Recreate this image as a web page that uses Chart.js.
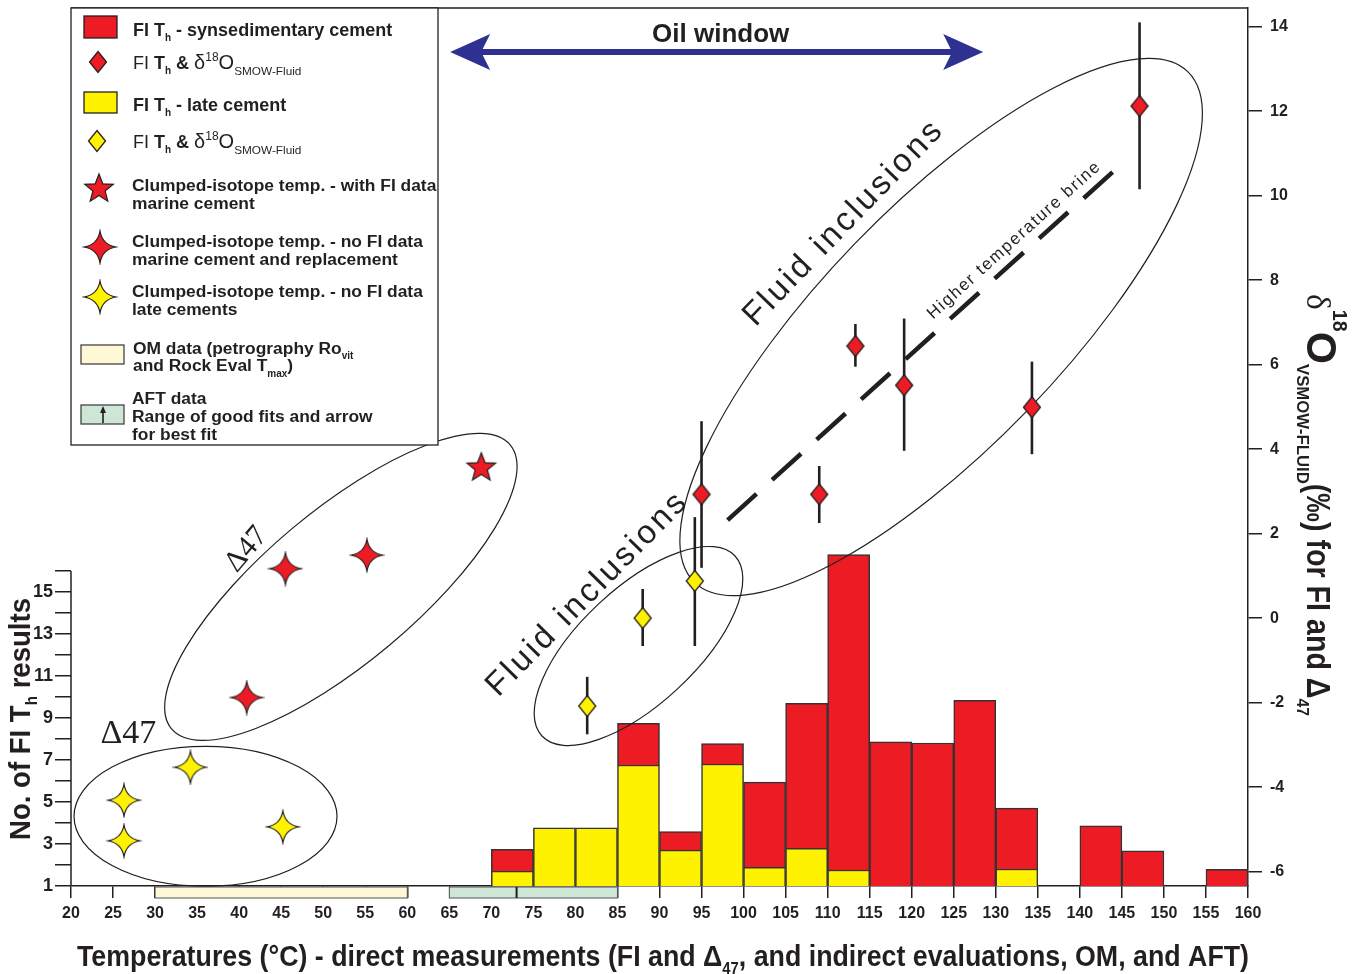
<!DOCTYPE html>
<html>
<head>
<meta charset="utf-8">
<script src="https://cdn.jsdelivr.net/npm/chart.js@4.4.1/dist/chart.umd.min.js"></script>
<style>
  html, body { margin: 0; padding: 0; background: #fff; }
  canvas { display: block; }
</style>
</head>
<body>
<canvas id="chart" width="1359" height="974"></canvas>
<script>
// ---- axes ----
var tempTicks = [20, 25, 30, 35, 40, 45, 50, 55, 60, 65, 70, 75, 80, 85, 90, 95, 100, 105, 110, 115, 120, 125, 130, 135, 140, 145, 150, 155, 160];
var countTicks = [1, 2, 3, 4, 5, 6, 7, 8, 9, 10, 11, 12, 13, 14, 15, 16];
var d18oTicks = [-6, -4, -2, 0, 2, 4, 6, 8, 10, 12, 14];

// ---- FI Th histogram (5 °C bins, bin centre), top of each colour in axis units ----
var binCentres      = [72.5, 77.5, 82.5, 87.5, 92.5, 97.5, 102.5, 107.5, 112.5, 117.5, 122.5, 127.5, 132.5, 142.5, 147.5, 157.5];
var lateCementTop   = [1.71, 3.77, 3.77, 6.76, 2.71, 6.81, 1.89, 2.79, 1.76, 1, 1, 1, 1.81, 1, 1, 1];
var synsedCementTop = [2.75, 3.77, 3.77, 8.75, 3.59, 7.78, 5.95, 9.70, 16.78, 7.87, 7.81, 9.84, 4.71, 3.86, 2.67, 1.79];

// ---- FI Th & d18O fluid (synsedimentary, red) ----
var redFiTemp = [95.0, 109.0, 113.3, 119.1, 134.3, 147.1];
var redFiD18o = [2.93, 2.93, 6.44, 5.51, 4.99, 12.12];
var redFiLow  = [1.19, 2.25, 5.95, 3.96, 3.88, 10.15];
var redFiHigh = [4.66, 3.60, 6.96, 7.09, 6.07, 14.10];

// ---- FI Th & d18O fluid (late cement, yellow) ----
var yelFiTemp = [81.4, 88.0, 94.2];
var yelFiD18o = [-2.08, 0.0, 0.88];
var yelFiLow  = [-2.75, -0.66, -0.66];
var yelFiHigh = [-1.39, 0.69, 2.39];

// ---- clumped isotopes ----
var clumpedWithFiTemp = [68.8];
var clumpedWithFiD18o = [3.58];
var clumpedMarineTemp = [40.9, 45.5, 55.2];
var clumpedMarineD18o = [-1.88, 1.17, 1.49];
var clumpedLateTemp = [26.3, 26.3, 34.2, 45.2];
var clumpedLateD18o = [-4.31, -5.27, -3.53, -4.94];

// ---- trend and ranges ----
var brineTrendTemp = [98.1, 144.3];
var brineTrendD18o = [2.32, 10.63];
var omRange = [30, 60];
var aftRange = [65, 85];
var aftBestFit = 73;
var oilWindow = [65.1, 128.5];

var INK = '#231f20';
var RED = '#ed1c24';
var YEL = '#fff200';
var SANS = '"Liberation Sans", Arial, sans-serif';
var SERIF = '"Liberation Serif", "Times New Roman", serif';

// marker images
function makeDiamond(fill) {
  var c = document.createElement('canvas'); c.width = 20; c.height = 24;
  var g = c.getContext('2d');
  g.beginPath(); g.moveTo(10, 1.5); g.lineTo(18.5, 12); g.lineTo(10, 22.5); g.lineTo(1.5, 12); g.closePath();
  g.fillStyle = fill; g.fill(); g.lineWidth = 1.3; g.strokeStyle = INK; g.stroke();
  return c;
}
function makeSparkle(fill) {
  var c = document.createElement('canvas'); c.width = 36; c.height = 36;
  var g = c.getContext('2d'), m = 18, R = 16, k = 2.3;
  g.beginPath(); g.moveTo(m, m - R);
  g.quadraticCurveTo(m + k, m - k, m + R, m);
  g.quadraticCurveTo(m + k, m + k, m, m + R);
  g.quadraticCurveTo(m - k, m + k, m - R, m);
  g.quadraticCurveTo(m - k, m - k, m, m - R);
  g.closePath();
  g.fillStyle = fill; g.fill(); g.lineWidth = 1.2; g.strokeStyle = INK; g.stroke();
  return c;
}
function makeStar(fill) {
  var c = document.createElement('canvas'); c.width = 34; c.height = 34;
  var g = c.getContext('2d'), m = 17, R = 15, r = 6.4;
  g.beginPath();
  for (var i = 0; i < 10; i++) {
    var a = -Math.PI / 2 + i * Math.PI / 5, rr = i % 2 ? r : R;
    var px = m + rr * Math.cos(a), py = m + 1 + rr * Math.sin(a);
    if (i) g.lineTo(px, py); else g.moveTo(px, py);
  }
  g.closePath();
  g.fillStyle = fill; g.fill(); g.lineWidth = 1.2; g.strokeStyle = INK; g.stroke();
  return c;
}
var redDiamond = makeDiamond(RED), yelDiamond = makeDiamond(YEL);
var redSparkle = makeSparkle(RED), yelSparkle = makeSparkle(YEL);
var redStar = makeStar(RED);

function pts(xs, ys) { return xs.map(function (x, i) { return { x: x, y: ys[i] }; }); }

var datasets = [];

// error bars
function addErrorBars(xs, lo, hi) {
  xs.forEach(function (x, i) {
    datasets.push({
      type: 'line', yAxisID: 'y2', order: 5,
      data: [{ x: x, y: lo[i] }, { x: x, y: hi[i] }],
      borderColor: INK, borderWidth: 2.6, pointRadius: 0, fill: false
    });
  });
}
addErrorBars(redFiTemp, redFiLow, redFiHigh);
addErrorBars(yelFiTemp, yelFiLow, yelFiHigh);

function markerSet(label, xs, ys, img) {
  return { type: 'scatter', label: label, yAxisID: 'y2', order: 1, data: pts(xs, ys),
    pointStyle: img, pointRadius: 10, showLine: false };
}
datasets.push(markerSet('FI Th & d18O (synsed.)', redFiTemp, redFiD18o, redDiamond));
datasets.push(markerSet('FI Th & d18O (late)', yelFiTemp, yelFiD18o, yelDiamond));
datasets.push(markerSet('Clumped - with FI', clumpedWithFiTemp, clumpedWithFiD18o, redStar));
datasets.push(markerSet('Clumped - marine', clumpedMarineTemp, clumpedMarineD18o, redSparkle));
datasets.push(markerSet('Clumped - late', clumpedLateTemp, clumpedLateD18o, yelSparkle));

datasets.push({
  type: 'line', label: 'Higher temperature brine', yAxisID: 'y2', order: 6,
  data: pts(brineTrendTemp, brineTrendD18o),
  borderColor: INK, borderWidth: 4.5, borderDash: [39, 21], borderCapStyle: 'butt',
  pointRadius: 0, fill: false
});

var barOpts = { type: 'bar', yAxisID: 'y', grouped: false, barPercentage: 1, categoryPercentage: 1,
  borderColor: '#333', borderWidth: 1.5, borderSkipped: 'start' };
datasets.push(Object.assign({}, barOpts, {
  label: 'FI Th - late cement', order: 10, backgroundColor: YEL,
  data: binCentres.map(function (x, i) { return { x: x, y: [1, lateCementTop[i]] }; })
    .filter(function (d) { return d.y[1] > d.y[0]; })
}));
datasets.push(Object.assign({}, barOpts, {
  label: 'FI Th - synsedimentary cement', order: 11, backgroundColor: RED,
  data: binCentres.map(function (x, i) { return { x: x, y: [lateCementTop[i], synsedCementTop[i]] }; })
    .filter(function (d) { return d.y[1] > d.y[0]; })
}));

// ---- text helpers ----
function drawRich(ctx, segs, x, y, angle, align, fitLen) {
  ctx.save();
  ctx.translate(x, y);
  ctx.rotate((angle || 0) * Math.PI / 180);
  var w = 0;
  segs.forEach(function (s) { ctx.font = s.f; s.w = ctx.measureText(s.t).width * (s.sx || 1); w += s.w; });
  if (fitLen) ctx.scale(fitLen / w, 1);
  var cx = align === 'center' ? -w / 2 : 0;
  ctx.fillStyle = INK; ctx.textAlign = 'left'; ctx.textBaseline = 'alphabetic';
  segs.forEach(function (s) {
    ctx.font = s.f;
    ctx.save(); ctx.translate(cx, s.dy || 0); ctx.scale(s.sx || 1, 1);
    ctx.fillText(s.t, 0, 0); ctx.restore();
    cx += s.w;
  });
  ctx.restore();
}
function spacedText(ctx, text, x, y, angle, font, spacing) {
  ctx.save();
  ctx.translate(x, y); ctx.rotate(angle * Math.PI / 180);
  ctx.font = font; ctx.fillStyle = INK; ctx.textAlign = 'center'; ctx.textBaseline = 'alphabetic';
  ctx.letterSpacing = spacing + 'px';
  ctx.fillText(text, spacing / 2, 0);
  ctx.restore();
}
function B(size) { return 'bold ' + size + 'px ' + SANS; }
function R(size) { return size + 'px ' + SANS; }

var annotations = {
  id: 'annotations',
  afterDatasetDraw: function (chart, args) {
    if (args.meta.label !== 'FI Th - late cement') return;
    var ctx = chart.ctx, xs = chart.scales.x, ys = chart.scales.y2;
    function X(v) { return xs.getPixelForValue(v); }
    function Y(v) { return ys.getPixelForValue(v); }
    ctx.save();
    ctx.strokeStyle = INK; ctx.lineWidth = 1.2;
    [[123.5, 6.89, 355, 120, -46], [87.5, -0.66, 132, 58, -43], [52.1, 0.74, 221, 76, -40], [36.0, -4.69, 131.5, 70, 0]]
      .forEach(function (e) {
        ctx.beginPath();
        ctx.ellipse(X(e[0]), Y(e[1]), e[2], e[3], e[4] * Math.PI / 180, 0, Math.PI * 2);
        ctx.stroke();
      });
    spacedText(ctx, 'Fluid inclusions', X(112.6), Y(9.18), -46, R(33), 3);
    spacedText(ctx, 'Fluid inclusions', X(82.1), Y(0.40), -45.5, R(33), 3);
    spacedText(ctx, 'Higher temperature brine', X(132.5), Y(8.85), -42, R(17), 1.6);
    spacedText(ctx, '\u039447', X(41.6), Y(1.50), -50, '30px ' + SERIF, 0);
    ctx.font = '34px ' + SERIF; ctx.textAlign = 'left'; ctx.fillStyle = INK;
    ctx.fillText('\u039447', X(23.5), Y(-2.96));
    ctx.restore();
  },
  afterDraw: function (chart) {
    var ctx = chart.ctx, a = chart.chartArea, xs = chart.scales.x, ys = chart.scales.y2, yc = chart.scales.y;
    function X(v) { return xs.getPixelForValue(v); }
    function Y(v) { return ys.getPixelForValue(v); }
    ctx.save();
    // frame: top edge and the short left count axis
    ctx.strokeStyle = INK; ctx.lineWidth = 1.5;
    ctx.beginPath(); ctx.moveTo(a.left, a.top); ctx.lineTo(a.right, a.top); ctx.stroke();
    ctx.beginPath(); ctx.moveTo(a.left, a.bottom); ctx.lineTo(a.left, yc.getPixelForValue(16)); ctx.stroke();

    // OM and AFT ranges under the axis
    ctx.lineWidth = 1;
    ctx.strokeStyle = '#555';
    ctx.fillStyle = '#fff8d6';
    ctx.fillRect(X(omRange[0]), a.bottom + 1, X(omRange[1]) - X(omRange[0]), 11);
    ctx.strokeRect(X(omRange[0]), a.bottom + 1, X(omRange[1]) - X(omRange[0]), 11);
    ctx.fillStyle = '#cde6d6';
    ctx.fillRect(X(aftRange[0]), a.bottom + 1, X(aftRange[1]) - X(aftRange[0]), 11);
    ctx.strokeRect(X(aftRange[0]), a.bottom + 1, X(aftRange[1]) - X(aftRange[0]), 11);
    ctx.strokeStyle = INK; ctx.lineWidth = 2;
    ctx.beginPath(); ctx.moveTo(X(aftBestFit), a.bottom + 1); ctx.lineTo(X(aftBestFit), a.bottom + 12); ctx.stroke();

    // oil window arrow
    var x0 = X(oilWindow[0]), x1 = X(oilWindow[1]), y = Y(13.4);
    ctx.fillStyle = '#2e3192'; ctx.strokeStyle = '#2e3192'; ctx.lineWidth = 6;
    ctx.beginPath(); ctx.moveTo(x0 + 25, y); ctx.lineTo(x1 - 25, y); ctx.stroke();
    [[x0, 1], [x1, -1]].forEach(function (h) {
      ctx.beginPath();
      ctx.moveTo(h[0], y);
      ctx.lineTo(h[0] + h[1] * 40, y - 18);
      ctx.lineTo(h[0] + h[1] * 31, y);
      ctx.lineTo(h[0] + h[1] * 40, y + 18);
      ctx.closePath(); ctx.fill();
    });
    drawRich(ctx, [{ t: 'Oil window', f: B(26) }], (x0 + x1) / 2 + 4, y - 10, 0, 'center');

    // legend box
    var lx = a.left, ly = a.top, lw = 438 - a.left, lh = 445 - a.top;
    ctx.fillStyle = '#fff'; ctx.fillRect(lx, ly, lw, lh);
    ctx.strokeStyle = INK; ctx.lineWidth = 1.3; ctx.strokeRect(lx, ly, lw, lh);
    ctx.lineWidth = 1.3;
    ctx.fillStyle = RED; ctx.fillRect(84, 16, 33, 22); ctx.strokeRect(84, 16, 33, 22);
    ctx.fillStyle = YEL; ctx.fillRect(84, 92, 33, 21); ctx.strokeRect(84, 92, 33, 21);
    ctx.drawImage(redDiamond, 98 - 10, 62 - 12);
    ctx.drawImage(yelDiamond, 97 - 10, 141 - 12);
    ctx.drawImage(redStar, 99 - 17, 188 - 17);
    ctx.drawImage(redSparkle, 100 - 18, 247 - 18);
    ctx.drawImage(yelSparkle, 100 - 18, 297 - 18);
    ctx.strokeStyle = '#444';
    ctx.fillStyle = '#fff8d6'; ctx.fillRect(81, 345, 43, 19); ctx.strokeRect(81, 345, 43, 19);
    ctx.fillStyle = '#cde6d6'; ctx.fillRect(81, 405, 43, 19); ctx.strokeRect(81, 405, 43, 19);
    ctx.strokeStyle = INK; ctx.fillStyle = INK; ctx.lineWidth = 1.6;
    ctx.beginPath(); ctx.moveTo(103, 423); ctx.lineTo(103, 412); ctx.stroke();
    ctx.beginPath(); ctx.moveTo(103, 406); ctx.lineTo(100, 413); ctx.lineTo(106, 413); ctx.closePath(); ctx.fill();

    var tx = 132, LF = 17.4;
    drawRich(ctx, [{ t: 'FI T', f: B(18) }, { t: 'h', f: B(10), dy: 5 }, { t: ' - synsedimentary cement', f: B(18) }], tx + 1, 36);
    var fluidLine = [{ t: 'FI ', f: R(18) }, { t: 'T', f: B(18) }, { t: 'h', f: B(10), dy: 5 }, { t: ' & ', f: B(18) },
      { t: '\u03b4', f: R(20) }, { t: '18', f: R(12), dy: -8 }, { t: 'O', f: R(20) }, { t: 'SMOW-Fluid', f: R(11.8), dy: 6 }];
    drawRich(ctx, fluidLine, tx + 1, 69);
    drawRich(ctx, [{ t: 'FI T', f: B(18) }, { t: 'h', f: B(10), dy: 5 }, { t: ' - late cement', f: B(18) }], tx + 1, 111);
    drawRich(ctx, fluidLine, tx + 1, 148);
    drawRich(ctx, [{ t: 'Clumped-isotope temp. - with FI data', f: B(LF) }], tx, 191);
    drawRich(ctx, [{ t: 'marine cement', f: B(LF) }], tx, 209);
    drawRich(ctx, [{ t: 'Clumped-isotope temp. - no FI data', f: B(LF) }], tx, 247);
    drawRich(ctx, [{ t: 'marine cement and replacement', f: B(LF) }], tx, 265);
    drawRich(ctx, [{ t: 'Clumped-isotope temp. - no FI data', f: B(LF) }], tx, 297);
    drawRich(ctx, [{ t: 'late cements', f: B(LF) }], tx, 315);
    drawRich(ctx, [{ t: 'OM data (petrography Ro', f: B(LF) }, { t: 'vit', f: B(10), dy: 5 }], tx + 1, 354);
    drawRich(ctx, [{ t: 'and Rock Eval T', f: B(LF) }, { t: 'max', f: B(10), dy: 6 }, { t: ')', f: B(LF) }], tx + 1, 371);
    drawRich(ctx, [{ t: 'AFT data', f: B(LF) }], tx, 404);
    drawRich(ctx, [{ t: 'Range of good fits and arrow', f: B(LF) }], tx, 422);
    drawRich(ctx, [{ t: 'for best fit', f: B(LF) }], tx, 440);

    // axis titles
    drawRich(ctx, [{ t: 'No. of FI T', f: B(29) }, { t: 'h', f: B(16), dy: 7 }, { t: ' results', f: B(29) }],
      30, 719, -90, 'center', 242);
    drawRich(ctx, [{ t: 'Temperatures (\u00b0C) - direct measurements (FI and \u0394', f: B(29) }, { t: '47', f: B(16), dy: 8 },
      { t: ', and indirect evaluations, OM, and AFT)', f: B(29) }], 663, 966, 0, 'center', 1172);
    drawRich(ctx, [
      { t: '\u03b4', f: '34px ' + SERIF },
      { t: '18', f: B(20), dy: -26 },
      { t: 'O', f: B(42) },
      { t: 'VSMOW-FLUID', f: B(17), dy: 10 },
      { t: '(\u2030) for FI and \u0394', f: B(33), sx: 0.88 },
      { t: '47', f: B(16), dy: 10 }
    ], 1307, 505, 90, 'center', 422);
    ctx.restore();
  }
};

function fixFit(size, key) {
  return function (s) {
    s[key] = size;
    s.paddingTop = 0; s.paddingBottom = 0; s.paddingLeft = 0; s.paddingRight = 0;
  };
}

new Chart(document.getElementById('chart'), {
  type: 'bar',
  data: { datasets: datasets },
  options: {
    responsive: false,
    animation: false,
    events: [],
    layout: { autoPadding: false, padding: { top: 8, left: 0, right: 0, bottom: 0 } },
    plugins: { legend: { display: false }, tooltip: { enabled: false } },
    scales: {
      x: {
        type: 'linear', position: 'bottom', min: 20, max: 160, offset: false,
        afterBuildTicks: function (s) { s.ticks = tempTicks.map(function (v) { return { value: v }; }); },
        ticks: { autoSkip: false, maxRotation: 0, padding: 6, color: INK, font: { family: SANS, weight: 'bold', size: 16 } },
        grid: { drawOnChartArea: false, offset: false, tickLength: 12, color: INK, lineWidth: 1.5 },
        border: { display: true, color: INK, width: 1.5 },
        afterFit: fixFit(88, 'height')
      },
      y: {
        type: 'linear', position: 'left', min: 1, max: 42.81,
        afterBuildTicks: function (s) { s.ticks = countTicks.map(function (v) { return { value: v }; }); },
        ticks: { padding: 2, color: INK, font: { family: SANS, weight: 'bold', size: 18 },
          callback: function (v) { return v % 2 === 1 ? String(v) : ''; } },
        grid: { drawOnChartArea: false, tickLength: 16, color: INK, lineWidth: 1.5 },
        border: { display: false },
        afterFit: fixFit(71, 'width')
      },
      y2: {
        type: 'linear', position: 'right', min: -6.34, max: 14.44,
        afterBuildTicks: function (s) { s.ticks = d18oTicks.map(function (v) { return { value: v }; }); },
        ticks: { padding: 8, color: INK, font: { family: SANS, weight: 'bold', size: 16 } },
        grid: { drawOnChartArea: false, tickLength: 14, color: INK, lineWidth: 1.5 },
        border: { display: true, color: INK, width: 1.5 },
        afterFit: fixFit(111, 'width')
      }
    }
  },
  plugins: [annotations]
});
</script>
</body>
</html>
